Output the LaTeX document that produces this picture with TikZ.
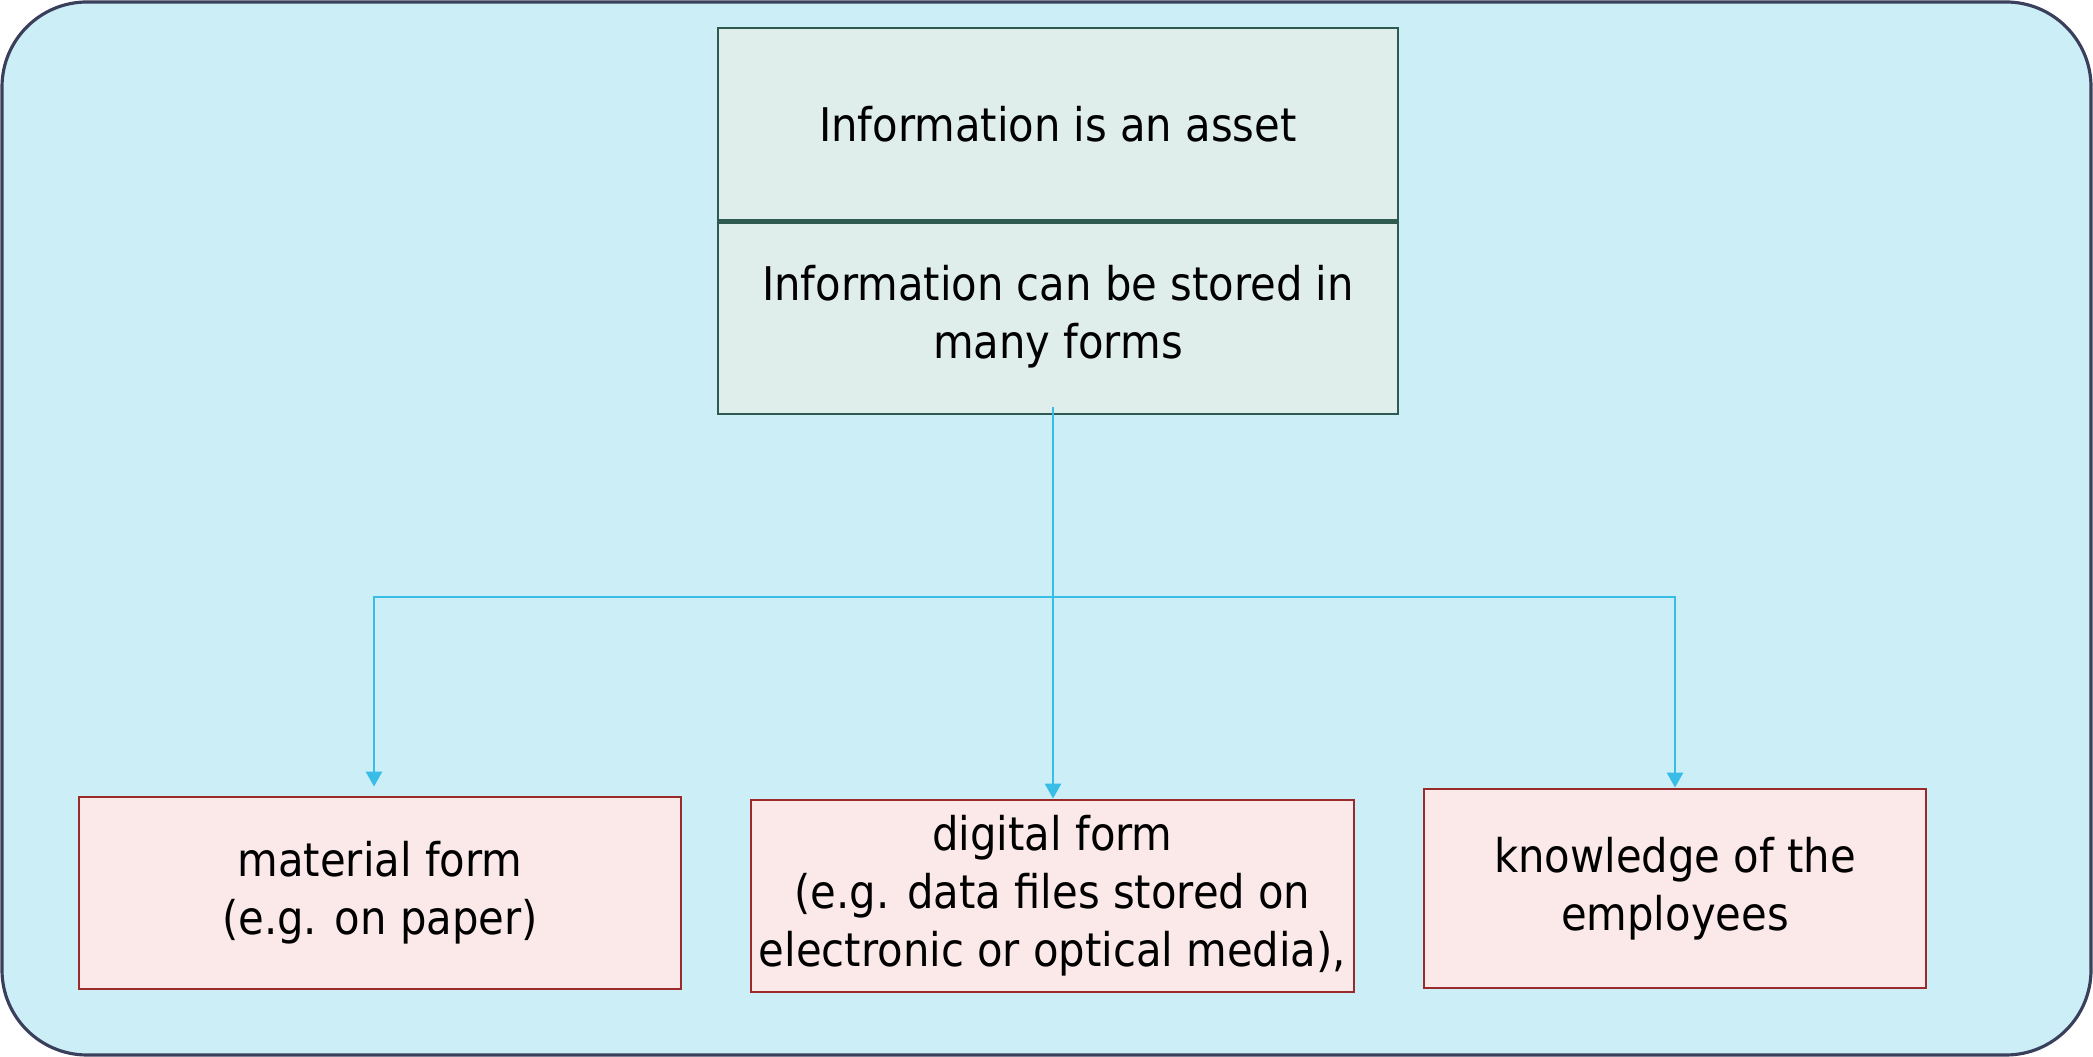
\documentclass[tikz,border=0pt]{standalone}
\usepackage{fontspec}
\setmainfont{DejaVu Sans Condensed}
\usepackage{tikz}
\usetikzlibrary{arrows.meta}
\usepackage{xcolor}
\definecolor{panelbg}{HTML}{CCEEF7}
\definecolor{panelline}{HTML}{3A3F5C}
\definecolor{headfill}{HTML}{DFEEEB}
\definecolor{headline}{HTML}{2F5A50}
\definecolor{formfill}{HTML}{FBE8E8}
\definecolor{formline}{HTML}{9B2A2A}
\definecolor{linkcol}{HTML}{38BDE6}
\begin{document}
\begin{tikzpicture}[>={Triangle[length=1.5mm,width=1.6mm]},
  font=\fontsize{13.2pt}{16.5pt}\selectfont,
  headbox/.style={draw=headline,fill=headfill,line width=0.8pt,minimum width=6.8cm,align=center,inner sep=0pt},
  formbox/.style={draw=formline,fill=formfill,line width=0.8pt,minimum height=1.92cm,align=center,inner sep=0pt},
  link/.style={draw=linkcol,line width=0.8pt}]
\useasboundingbox (0,0) rectangle (20.93,10.57);
\draw[panelline,fill=panelbg,line width=0.9pt,rounded corners=0.85cm] (0.02,0.02) rectangle (20.91,10.55);
\node[headbox,minimum height=1.92cm] (asset) at (10.58,9.33) {Information is an asset};
\node[headbox,minimum height=1.94cm] (forms) at (10.58,7.40) {Information can be stored in\\many forms};
\draw[headline,line width=1.5pt] (asset.south west) -- (asset.south east);
\node[formbox,minimum width=6.02cm] (mat) at (3.80,1.64) {material form\\(e.g. on paper)};
\node[formbox,minimum width=6.03cm] (dig) at (10.525,1.61) {digital form\\(e.g. data files stored on\\electronic or optical media),};
\node[formbox,minimum width=5.02cm,minimum height=1.99cm] (know) at (16.75,1.685) {knowledge of the\\employees};
\coordinate (split) at (10.53,4.60);
\draw[link] ([yshift=0.08cm]split |- forms.south) -- (split);
\draw[link,->,shorten >=0.09cm] (split) -| ([xshift=-0.06cm]mat.north);
\draw[link,->] (split) -- (split |- dig.north);
\draw[link,->] (split) -| (know.north);
\end{tikzpicture}
\end{document}
